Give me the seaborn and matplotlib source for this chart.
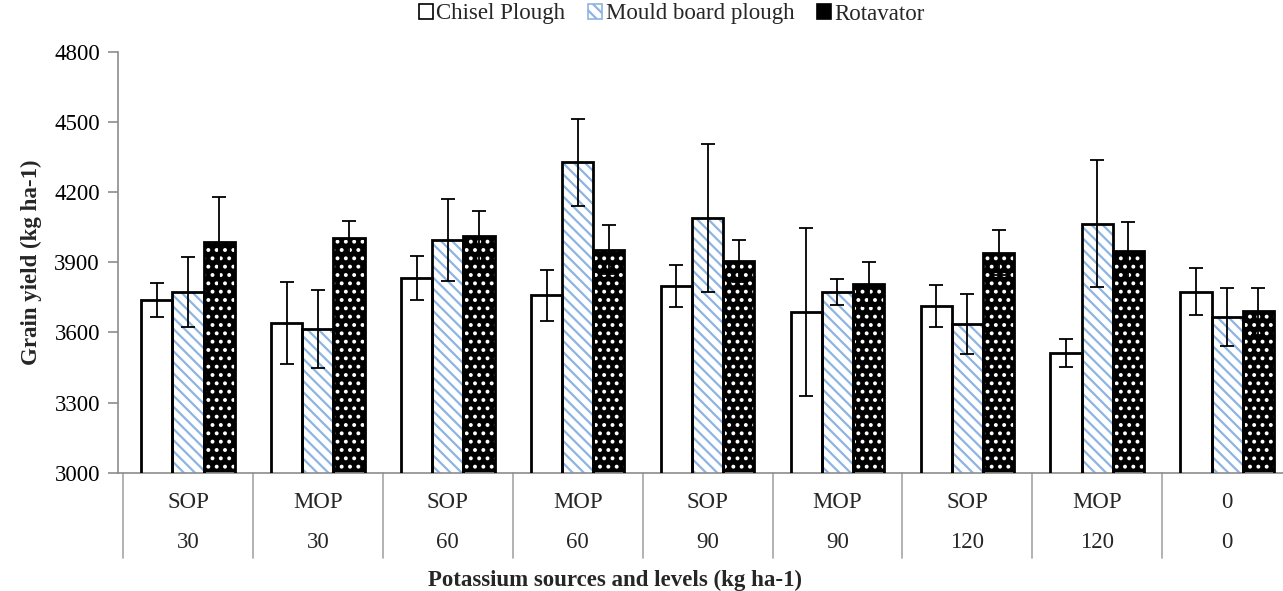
import pandas as pd
import matplotlib.pyplot as plt
import matplotlib.transforms as mtransforms
from matplotlib.patches import Rectangle, Patch
import seaborn as sns

# sources / levels on the two label rows
sources = ["SOP", "MOP", "SOP", "MOP", "SOP", "MOP", "SOP", "MOP", "0"]
levels = ["30", "30", "60", "60", "90", "90", "120", "120", "0"]
tillage = ["Chisel Plough", "Mould board plough", "Rotavator"]

chisel = [3738, 3639, 3834, 3759, 3797, 3688, 3714, 3512, 3774]
chisel_err = [73, 175, 94, 109, 90, 360, 90, 58, 100]
mould = [3774, 3614, 3995, 4327, 4088, 3771, 3635, 4065, 3666]
mould_err = [149, 166, 174, 185, 316, 56, 128, 273, 125]
rota = [3985, 4005, 4011, 3954, 3905, 3807, 3941, 3948, 3690]
rota_err = [194, 71, 107, 105, 90, 95, 96, 123, 101]

keys = [f"{s}\n{l}" for s, l in zip(sources, levels)]
df = pd.DataFrame({
    "group": keys * 3,
    "tillage": [t for t in tillage for _ in keys],
    "yield": chisel + mould + rota,
})
errs = [chisel_err, mould_err, rota_err]
vals = [chisel, mould, rota]

sns.set_style("ticks")
plt.rcParams["font.family"] = ["Liberation Serif", "DejaVu Serif"]
plt.rcParams["hatch.linewidth"] = 1.6

blue = "#8DB4E2"
styles = [
    dict(fc="white", hatch=None, hc="black"),
    dict(fc="white", hatch="\\\\\\", hc=blue),
    dict(fc="black", hatch="..", hc="white"),
]
fs = 16.5

fig = plt.figure(figsize=(12.83, 5.91), dpi=100)
ax = fig.add_axes([118 / 1283, 118.3 / 591, 1 - 118 / 1283, 421 / 591])

sns.barplot(data=df, x="group", y="yield", hue="tillage", order=keys,
            hue_order=tillage, width=0.72, gap=0, errorbar=None,
            legend=False, ax=ax)

for cont, st, v, e in zip(ax.containers, styles, vals, errs):
    xs = []
    for bar in cont:
        bar.set_facecolor(st["fc"])
        bar.set_edgecolor(st["hc"])
        bar.set_linewidth(0)
        if st["hatch"]:
            bar.set_hatch(st["hatch"])
        ax.add_patch(Rectangle((bar.get_x(), 0), bar.get_width(), bar.get_height(),
                               fill=False, ec="black", lw=2, zorder=3))
        xs.append(bar.get_x() + bar.get_width() / 2)
    ax.errorbar(xs, v, yerr=e, fmt="none", ecolor="black", elinewidth=1.3,
                capsize=5, capthick=1.3, zorder=4)

ax.set_ylim(3000, 4800)
ax.set_yticks(range(3000, 4801, 300))
ax.set_xlim(-0.539, 8.43)

for sp in ["top", "right"]:
    ax.spines[sp].set_visible(False)
for sp in ["left", "bottom"]:
    ax.spines[sp].set_color("#8c8c8c")
    ax.spines[sp].set_linewidth(1.2)

ax.tick_params(axis="y", colors="#8c8c8c", length=7, width=1.2, pad=6,
               labelsize=fs, labelcolor="black")
ax.tick_params(axis="x", length=0, pad=14, labelsize=fs)
for lab in ax.get_xticklabels():
    lab.set_linespacing(2.2)

# vertical separators of the category table
trans = mtransforms.blended_transform_factory(ax.transData, ax.transAxes)
for i in range(len(keys) + 1):
    ax.plot([i - 0.5, i - 0.5], [0, -0.202], transform=trans, color="#a6a6a6",
            lw=1.2, clip_on=False)

ax.set_xlabel("")
ax.set_ylabel("Grain yield (kg ha-1)", fontsize=fs, fontweight="bold", labelpad=9)
fig.text(615 / 1283, 11 / 591, "Potassium sources and levels (kg ha-1)",
         ha="center", va="center", fontsize=fs, fontweight="bold")

handles = [
    Patch(facecolor="white", edgecolor="black", lw=1.2),
    Patch(facecolor="white", edgecolor=blue, hatch="\\\\\\", lw=1.2),
    Patch(facecolor="black", edgecolor="black", lw=1.2),
]
fig.legend(handles, tillage, loc="center", bbox_to_anchor=(672 / 1283, 1 - 14 / 591),
           ncol=3, frameon=False, fontsize=fs, handlelength=0.6, handleheight=0.6,
           handletextpad=0.15, columnspacing=1.0, borderpad=0)

fig.savefig("out.png", dpi=100)
